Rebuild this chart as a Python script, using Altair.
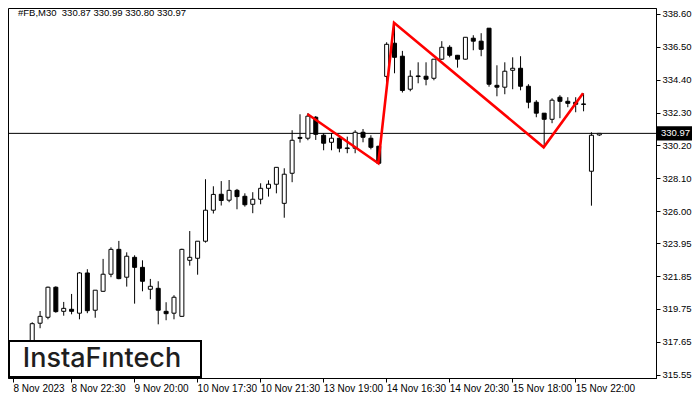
import json
import altair as alt
import pandas as pd

# ---- data (M30 candles, #FB) ----
first_bar = 3  # bar index of the first candle listed below
opens = [317.50, 318.84, 319.22, 321.14, 319.60, 319.73, 319.48, 322.05, 319.67, 320.88,
         321.97, 323.56, 321.78, 323.05, 322.41, 321.01, 321.07, 319.60, 319.48, 319.28,
         322.86, 322.99, 324.08, 326.06, 327.08, 326.70, 327.33, 326.95, 326.44, 326.76,
         327.46, 327.72, 326.50, 328.42, 330.71, 330.66, 332.00, 330.85, 330.40, 330.66,
         330.04, 330.02, 331.04, 330.66, 330.15, 334.61, 336.73, 335.90, 333.79, 334.64,
         334.62, 334.49, 335.71, 336.47, 335.96, 335.71, 337.05, 336.86, 337.69, 334.04,
         333.92, 335.00, 335.13, 333.98, 332.96, 332.26, 331.87, 333.28, 333.02, 332.96,
         332.85, 328.55, 330.87]
highs = [318.90, 319.62, 321.18, 321.20, 320.20, 320.71, 322.11, 322.29, 320.95, 322.95,
         323.69, 324.10, 323.37, 323.18, 322.86, 321.67, 321.52, 320.18, 320.63, 323.60,
         324.73, 324.08, 328.04, 327.59, 327.92, 327.99, 327.42, 327.14, 327.21, 327.78,
         327.97, 328.80, 328.74, 331.17, 332.19, 332.26, 332.08, 330.98, 330.98, 330.85,
         330.76, 331.17, 331.25, 330.85, 330.15, 336.79, 338.04, 336.24, 335.00, 335.51,
         335.51, 335.71, 336.86, 336.60, 335.98, 337.11, 337.24, 337.37, 337.69, 335.32,
         335.51, 335.83, 335.90, 334.11, 333.09, 332.26, 333.21, 333.41, 333.28, 333.28,
         333.53, 331.04, 330.99]
lows = [317.20, 318.52, 319.09, 319.51, 319.32, 319.41, 319.09, 319.48, 319.19, 320.85,
        321.78, 321.65, 321.18, 320.09, 320.88, 320.37, 318.77, 319.03, 319.09, 319.25,
        322.52, 321.94, 323.99, 325.85, 326.36, 326.57, 326.12, 326.29, 325.87, 326.44,
        326.93, 327.14, 325.58, 327.85, 330.38, 330.53, 330.55, 329.89, 329.89, 329.76,
        329.70, 329.70, 330.40, 329.95, 329.00, 334.17, 334.81, 333.58, 333.66, 334.17,
        334.04, 334.36, 335.66, 335.83, 335.17, 335.69, 336.28, 335.90, 333.95, 333.34,
        333.47, 333.79, 333.72, 332.57, 332.00, 330.12, 331.62, 331.94, 332.64, 332.32,
        332.38, 326.35, 330.80]
closes = [318.81, 319.28, 321.14, 319.58, 319.79, 319.60, 322.05, 319.64, 320.95, 321.97,
          323.56, 321.69, 323.12, 322.41, 321.52, 321.20, 319.67, 319.45, 320.50, 323.56,
          323.05, 324.08, 326.06, 327.07, 326.68, 327.33, 326.93, 326.41, 326.76, 327.46,
          327.72, 328.80, 328.36, 330.53, 330.65, 332.07, 330.91, 330.34, 330.66, 330.02,
          330.00, 331.04, 330.72, 330.08, 329.06, 336.66, 335.83, 333.71, 334.62, 334.60,
          334.43, 335.71, 336.47, 335.96, 335.71, 337.11, 336.86, 336.34, 334.11, 333.92,
          334.94, 335.13, 333.98, 332.96, 332.26, 331.87, 333.09, 333.02, 332.89, 332.83,
          332.82, 330.85, 330.97]

date_labels = ["8 Nov 2023", "8 Nov 22:30", "9 Nov 20:00", "10 Nov 17:30", "10 Nov 21:30",
               "13 Nov 19:00", "14 Nov 16:30", "14 Nov 20:30", "15 Nov 18:00", "15 Nov 22:00"]
y_ticks = [315.55, 317.65, 319.75, 321.85, 323.95, 326.00, 328.10, 330.20, 332.30,
           334.40, 336.50, 338.60]

# double-top pattern outline (bar index, price)
pattern_bars = [38, 47, 49, 68, 73]
pattern_prices = [332.21, 329.06, 338.04, 330.08, 333.53]

symbol = "#FB,M30"
logo_text = "InstaF\u0131ntech"

# ---- tables ----
df = pd.DataFrame({
    "i": list(range(first_bar, first_bar + len(opens))),
    "open": opens, "high": highs, "low": lows, "close": closes,
})
pat = pd.DataFrame({"i": pattern_bars, "price": pattern_prices})
cur = closes[-1]
cur_df = pd.DataFrame({"price": [cur], "top": [cur + 0.45], "bot": [cur - 0.45],
                       "label": [f"{cur:.2f}"]})
header = f"{symbol}\u00a0 {opens[-1]:.2f} {highs[-1]:.2f} {lows[-1]:.2f} {closes[-1]:.2f}"
one = pd.DataFrame({"t": [0]})

W, H = 648, 370
FONT = "Liberation Sans"

xs = alt.Scale(domain=[0.625, 0.625 + W / 8], nice=False, zero=False)
ys = alt.Scale(domain=[315.34, 338.98], nice=False, zero=False)

x_axis = alt.Axis(
    values=[0.625] + [8 * k for k in range(1, len(date_labels))],
    labelExpr=json.dumps(date_labels) + "[round(datum.value / 8)]",
    labelAlign="left", labelFlush=False, labelOverlap=False, labelBaseline="top",
    tickSize=4, labelPadding=1, grid=False, title=None,
    domainColor="black", tickColor="black", labelColor="black",
    labelFont=FONT, labelFontSize=10,
)
y_axis = alt.Axis(
    orient="right", values=y_ticks, format=".2f", labelOverlap=False,
    tickSize=4, labelPadding=2, grid=False, title=None,
    domainColor="black", tickColor="black", labelColor="black",
    labelFont=FONT, labelFontSize=9.5,
)

X = alt.X("i:Q", scale=xs, axis=x_axis, title=None)

hline = alt.Chart(cur_df).mark_rule(color="black", strokeWidth=1).encode(
    y=alt.Y("price:Q", scale=ys, axis=y_axis, title=None)
)

wicks = alt.Chart(df).mark_rule(color="black", strokeWidth=1, xOffset=0.5, clip=True).encode(
    x=X,
    y=alt.Y("low:Q", scale=ys, axis=y_axis, title=None),
    y2="high:Q",
)

bodies = alt.Chart(df).mark_bar(size=4, stroke="black", strokeWidth=1, xOffset=0.5, clip=True).encode(
    x=X,
    y=alt.Y("open:Q", scale=ys, axis=y_axis, title=None),
    y2="close:Q",
    fill=alt.condition("datum.close >= datum.open", alt.value("white"), alt.value("black")),
)

pattern = alt.Chart(pat).mark_line(color="#ff0000", strokeWidth=2.6, clip=True).encode(
    x=X,
    y=alt.Y("price:Q", scale=ys, axis=y_axis, title=None),
)

logo_box = alt.Chart(one).mark_rect(fill="white", stroke="black", strokeWidth=2).encode(
    x=alt.value(1), x2=alt.value(193), y=alt.value(333), y2=alt.value(369)
)
logo = alt.Chart(one).mark_text(
    text=logo_text, font="Inter", fontSize=27, fontWeight=500, color="#1e1e1e",
    align="center", baseline="middle"
).encode(x=alt.value(94), y=alt.value(351))

head = alt.Chart(one).mark_text(
    text=header, font=FONT, fontSize=9.5, color="black", align="left", baseline="middle"
).encode(x=alt.value(10), y=alt.value(5))

price_box = alt.Chart(cur_df).mark_rect(fill="black").encode(
    x=alt.value(W + 1), x2=alt.value(W + 36),
    y=alt.Y("top:Q", scale=ys, axis=y_axis, title=None), y2="bot:Q",
)
price_txt = alt.Chart(cur_df).mark_text(
    font=FONT, fontSize=9.5, color="white", align="left", baseline="middle"
).encode(
    x=alt.value(W + 5),
    y=alt.Y("price:Q", scale=ys, axis=y_axis, title=None),
    text="label:N",
)

chart = alt.layer(
    hline, wicks, bodies, pattern, logo_box, logo, head, price_box, price_txt
).properties(
    width=W, height=H,
    autosize=alt.AutoSizeParams(type="none"),
    padding={"left": 0, "top": 0, "right": 36, "bottom": 14},
    background="white",
).configure_view(stroke="black", strokeWidth=1)

chart.save("out.html", embed_options={"renderer": "svg", "actions": False})
